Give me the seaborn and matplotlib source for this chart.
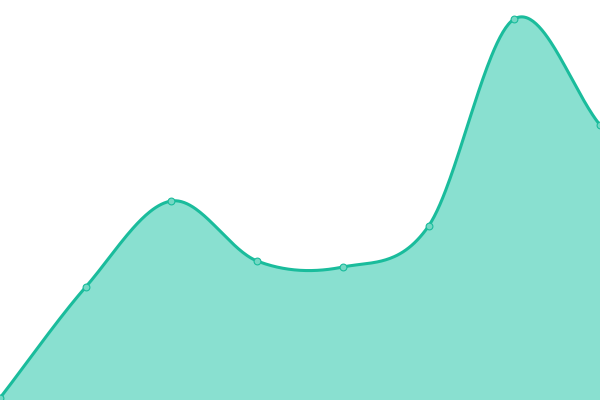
import numpy as np
import pandas as pd
import matplotlib
matplotlib.use("Agg")
import matplotlib.pyplot as plt
import seaborn as sns

# data
x_idx = [0, 1, 2, 3, 4, 5, 6, 7]
values = [2, 113, 199, 139, 133, 174, 381, 275]

LINE = "#1ABC9C"
FILL = "#89E0D0"
MFACE = "#74D8C4"

def catmull_rom(xs, ys, n=60):
    xs = np.asarray(xs, float); ys = np.asarray(ys, float)
    m = np.zeros_like(ys)
    m[1:-1] = (ys[2:] - ys[:-2]) / 2.0
    m[0] = ys[1] - ys[0]
    m[-1] = ys[-1] - ys[-2]
    ox, oy = [], []
    for i in range(len(xs) - 1):
        t = np.linspace(0, 1, n, endpoint=(i == len(xs) - 2))
        h00 = 2*t**3 - 3*t**2 + 1
        h10 = t**3 - 2*t**2 + t
        h01 = -2*t**3 + 3*t**2
        h11 = t**3 - t**2
        oy.append(h00*ys[i] + h10*m[i] + h01*ys[i+1] + h11*m[i+1])
        ox.append(xs[i] + t*(xs[i+1] - xs[i]))
    return np.concatenate(ox), np.concatenate(oy)

sx, sy = catmull_rom(x_idx, values)
curve = pd.DataFrame({"x": sx, "y": sy})
pts = pd.DataFrame({"x": x_idx, "y": values})

sns.set_style("white")
fig = plt.figure(figsize=(6, 4), dpi=100)
ax = fig.add_axes([0, 0, 1, 1])
ax.fill_between(curve["x"], curve["y"], 0, color=FILL, lw=0, zorder=1)
sns.lineplot(data=curve, x="x", y="y", ax=ax, color=LINE, lw=2.2, zorder=2, estimator=None, sort=False)
sns.scatterplot(data=pts, x="x", y="y", ax=ax, s=24, color=MFACE, edgecolor=LINE, linewidth=0.8, zorder=3, clip_on=False)
ax.set_xlim(0, 7)
ax.set_ylim(0, 400)
ax.set_axis_off()
fig.savefig("out.png", dpi=100)
